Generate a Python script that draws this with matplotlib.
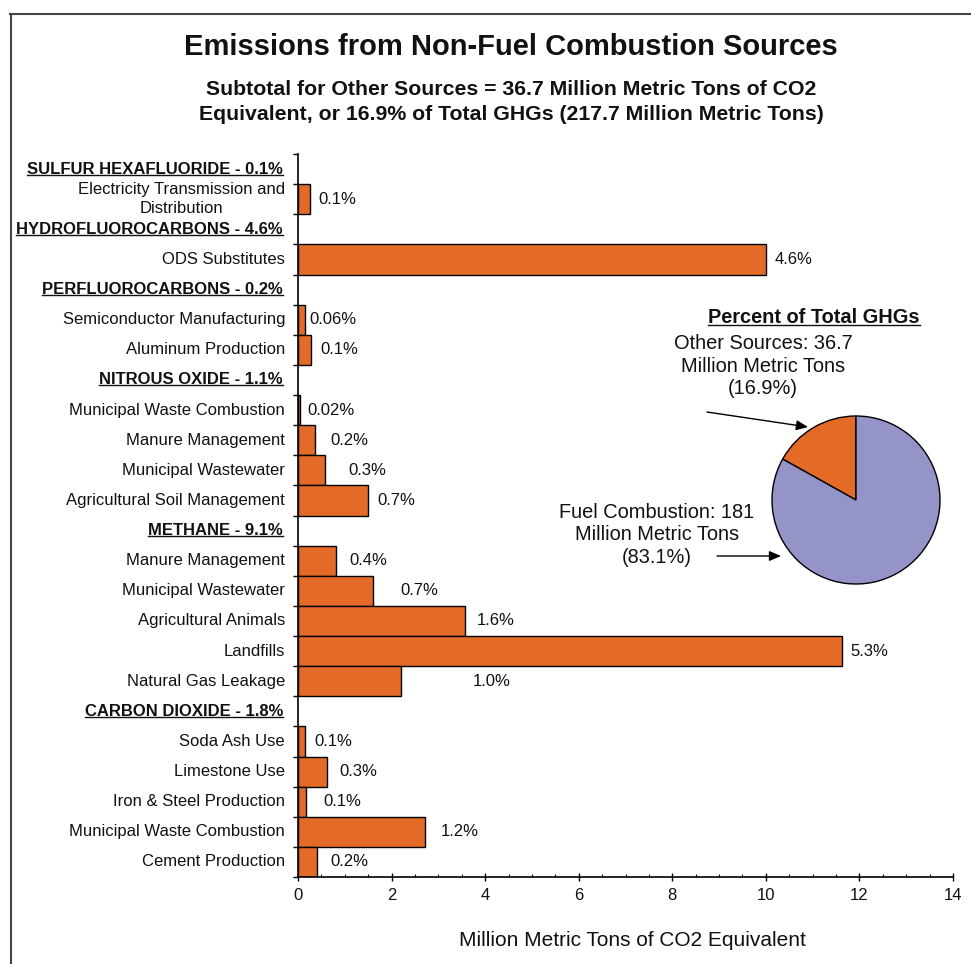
import numpy as np
import matplotlib
matplotlib.use("Agg")
import matplotlib.pyplot as plt
from matplotlib.lines import Line2D
from matplotlib.ticker import MultipleLocator

plt.rcParams['font.family'] = ['Liberation Sans', 'DejaVu Sans']

W, H, DPI = 971, 964, 100

title = "Emissions from Non-Fuel Combustion Sources"
subtitle = ("Subtotal for Other Sources = 36.7 Million Metric Tons of CO2\n"
            "Equivalent, or 16.9% of Total GHGs (217.7 Million Metric Tons)")
x_label = "Million Metric Tons of CO2 Equivalent"

# gas groups, top to bottom
gas_headers = ["SULFUR HEXAFLUORIDE - 0.1%", "HYDROFLUOROCARBONS - 4.6%",
               "PERFLUOROCARBONS - 0.2%", "NITROUS OXIDE - 1.1%",
               "METHANE - 9.1%", "CARBON DIOXIDE - 1.8%"]

sf6_sources = ["Electricity Transmission and\nDistribution"]
sf6_values = [0.25]
sf6_pct = ["0.1%"]

hfc_sources = ["ODS Substitutes"]
hfc_values = [10.0]
hfc_pct = ["4.6%"]

pfc_sources = ["Semiconductor Manufacturing", "Aluminum Production"]
pfc_values = [0.14, 0.28]
pfc_pct = ["0.06%", "0.1%"]

n2o_sources = ["Municipal Waste Combustion", "Manure Management",
               "Municipal Wastewater", "Agricultural Soil Management"]
n2o_values = [0.05, 0.37, 0.57, 1.50]
n2o_pct = ["0.02%", "0.2%", "0.3%", "0.7%"]

ch4_sources = ["Manure Management", "Municipal Wastewater", "Agricultural Animals",
               "Landfills", "Natural Gas Leakage"]
ch4_values = [0.82, 1.60, 3.57, 11.62, 2.20]
ch4_pct = ["0.4%", "0.7%", "1.6%", "5.3%", "1.0%"]

co2_sources = ["Soda Ash Use", "Limestone Use", "Iron & Steel Production",
               "Municipal Waste Combustion", "Cement Production"]
co2_values = [0.15, 0.62, 0.18, 2.72, 0.41]
co2_pct = ["0.1%", "0.3%", "0.1%", "1.2%", "0.2%"]

x_ticks = [0, 2, 4, 6, 8, 10, 12, 14]

pie_names = ["Other Sources", "Fuel Combustion"]
pie_pct = [16.9, 83.1]
pie_title = "Percent of Total GHGs"
other_note = "Other Sources: 36.7\nMillion Metric Tons\n(16.9%)"
fuel_note = "Fuel Combustion: 181\nMillion Metric Tons\n(83.1%)"

# horizontal pixel nudges of the percentage labels, one per bar
label_nudge = [9, 9, 5, 9, 7, 15, 24, 9, 13, 28, 12, 9, 72, 9, 12, 17, 15, 13]

ORANGE = "#E36A27"
LAVENDER = "#9494C9"
INK = "#111111"

groups = [
    (sf6_sources, sf6_values, sf6_pct),
    (hfc_sources, hfc_values, hfc_pct),
    (pfc_sources, pfc_values, pfc_pct),
    (n2o_sources, n2o_values, n2o_pct),
    (ch4_sources, ch4_values, ch4_pct),
    (co2_sources, co2_values, co2_pct),
]

# lay the rows out: heading row, then one row per source
header_rows = []
bar_rows, bar_vals, bar_pcts, bar_names = [], [], [], []
row = 0
for head, (names, vals, pcts) in zip(gas_headers, groups):
    header_rows.append((row, head))
    row += 1
    for n, v, p in zip(names, vals, pcts):
        bar_rows.append(row)
        bar_vals.append(v)
        bar_pcts.append(p)
        bar_names.append(n)
        row += 1
n_rows = row

fig = plt.figure(figsize=(W / DPI, H / DPI), dpi=DPI)
fig.patch.set_facecolor("white")


def fx(px):
    return px / W


def fy(py):
    return 1 - py / H


ax = fig.add_axes([fx(298), fy(877), (953 - 298) / W, (877 - 154) / H])
ax.barh(bar_rows, bar_vals, height=1.0, color=ORANGE, edgecolor="black",
        linewidth=1.0, zorder=2)
ax.set_ylim(n_rows - 0.5, -0.5)
ax.set_xlim(0, 14)

for r, v, p, dx in zip(bar_rows, bar_vals, bar_pcts, label_nudge):
    ax.annotate(p, xy=(v, r), xytext=(dx, 0), textcoords="offset pixels",
                ha="left", va="center", fontsize=12, color=INK)

ytr = ax.get_yaxis_transform()
for r, n in zip(bar_rows, bar_names):
    ax.text(-13 / 655, r, n, transform=ytr, ha="right", va="center",
            multialignment="center", fontsize=12, linespacing=1.3, color=INK)

header_texts = []
for r, h in header_rows:
    t = ax.text(-15 / 655, r, h, transform=ytr, ha="right", va="center",
                fontsize=12, fontweight="bold", color=INK)
    header_texts.append(t)

ax.set_yticks(np.arange(-0.5, n_rows, 1.0))
ax.set_yticklabels([])
ax.tick_params(axis="y", direction="out", length=3.6, width=1.0)
ax.xaxis.set_major_locator(MultipleLocator(2))
ax.xaxis.set_minor_locator(MultipleLocator(0.5))
ax.set_xticks(x_ticks)
ax.set_xticklabels([str(v) for v in x_ticks], fontsize=12, color=INK)
ax.tick_params(axis="x", which="major", direction="inout", length=6, width=1.0, pad=5)
ax.tick_params(axis="x", which="minor", direction="in", length=2.4, width=0.8)
for s in ("top", "right"):
    ax.spines[s].set_visible(False)
for s in ("left", "bottom"):
    ax.spines[s].set_linewidth(1.2)

fig.text(fx(632), fy(940), x_label, ha="center", va="center", fontsize=15,
         color=INK)

fig.text(fx(511), fy(47), title, ha="center", va="center", fontsize=21,
         fontweight="bold", color=INK)
fig.text(fx(511), fy(102), subtitle, ha="center", va="center", fontsize=15.3,
         fontweight="bold", linespacing=1.42, color=INK)

# pie of total GHGs
R = 84
pad = 1.03
pax = fig.add_axes([fx(856 - R * pad), fy(500 + R * pad), 2 * R * pad / W, 2 * R * pad / H])
pax.pie(pie_pct, colors=[ORANGE, LAVENDER], startangle=90, counterclock=True,
        wedgeprops=dict(edgecolor="black", linewidth=1.0))
pax.set_xlim(-pad, pad)
pax.set_ylim(-pad, pad)
pax.set_aspect("equal")
pax.axis("off")

pie_title_t = fig.text(fx(814), fy(318), pie_title, ha="center", va="center",
                       fontsize=14.4, fontweight="bold", color=INK)
fig.text(fx(763), fy(366), other_note, ha="center", va="center", fontsize=14.4,
         linespacing=1.22, color=INK)
fig.text(fx(657), fy(535), fuel_note, ha="center", va="center", fontsize=14.4,
         linespacing=1.22, color=INK)

arrow = dict(arrowstyle="-|>,head_length=0.7,head_width=0.3", color="black", lw=1.0,
             shrinkA=0, shrinkB=0)
ax.annotate("", xy=(808, H - 427), xycoords="figure pixels",
            xytext=(707, H - 412), textcoords="figure pixels", arrowprops=arrow)
ax.annotate("", xy=(781, H - 556), xycoords="figure pixels",
            xytext=(717, H - 556), textcoords="figure pixels", arrowprops=arrow)

# frame around the page
fig.add_artist(Line2D([fx(10.5), fx(10.5)], [fy(14), fy(964)], color="#444444", lw=1.5))
fig.add_artist(Line2D([fx(10), fx(971)], [fy(14), fy(14)], color="#444444", lw=1.5))

# underline the gas headings and the pie heading
fig.canvas.draw()
renderer = fig.canvas.get_renderer()
for t in header_texts + [pie_title_t]:
    bb = t.get_window_extent(renderer)
    y = bb.y0 + 2.0
    fig.add_artist(Line2D([bb.x0 / W, bb.x1 / W], [y / H, y / H],
                          color=INK, lw=1.0))

fig.savefig("out.png", dpi=DPI, facecolor="white")
